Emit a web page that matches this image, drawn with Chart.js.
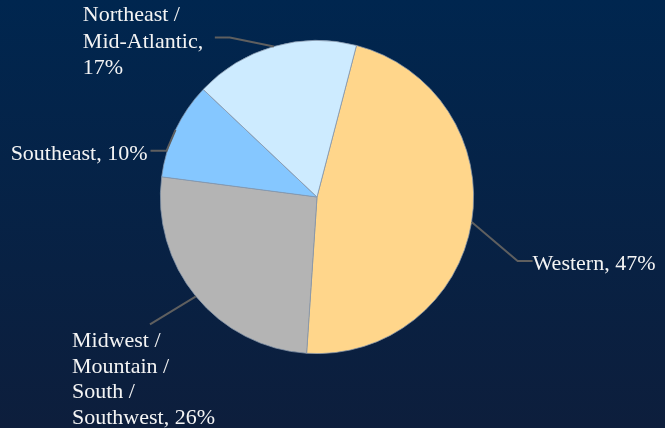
<!DOCTYPE html>
<html>
<head>
<meta charset="utf-8">
<script src="https://cdn.jsdelivr.net/npm/chart.js@4.4.0/dist/chart.umd.min.js"></script>
<style>
  html, body { margin: 0; padding: 0; }
  body { width: 665px; height: 428px; background: linear-gradient(#00264f, #0d1e3c); }
  #wrap { width: 665px; height: 428px; position: relative; }
</style>
</head>
<body>
<div id="wrap"><canvas id="regionPie"></canvas></div>
<script>
// regions, clockwise from the top
var regions = ["Western", "Midwest / Mountain / South / Southwest", "Southeast", "Northeast / Mid-Atlantic"];
var shares = [47, 26, 10, 17];
var sliceColors = ["#ffd68b", "#b4b4b4", "#85c7ff", "#cdebff"];

// label text broken into lines like the original
var labelLines = [
    ["Western, 47%"],
    ["Midwest /", "Mountain /", "South /", "Southwest, 26%"],
    ["Southeast, 10%"],
    ["Northeast /", "Mid-Atlantic,", "17%"]
];

// leader line elbow offset from slice edge, horizontal tail, text offset from elbow
var labelLayout = [
    {elbow: [46, 39], tail: 15, align: "left", tx: 15, ty: 9, lh: 26},
    {elbow: [-46, 28], tail: 0, align: "left", tx: -78, ty: 23, lh: 25.5},
    {elbow: [-9, 21], tail: -16, align: "right", tx: -19, ty: 9, lh: 26},
    {elbow: [-44, -9], tail: -15, align: "left", tx: -147, ty: -16, lh: 26.5}
];

var labelFont = "22px 'Liberation Serif', 'DejaVu Serif', serif";

var leaderLabels = {
    id: "leaderLabels",
    afterDatasetsDraw: function(chart) {
        var c = chart.ctx;
        var arcs = chart.getDatasetMeta(0).data;
        c.save();
        c.font = labelFont;
        c.textBaseline = "alphabetic";
        arcs.forEach(function(arc, i) {
            var p = arc.getProps(["x", "y", "startAngle", "endAngle", "outerRadius"], true);
            var mid = (p.startAngle + p.endAngle) / 2;
            var sx = p.x + Math.cos(mid) * p.outerRadius;
            var sy = p.y + Math.sin(mid) * p.outerRadius;
            var L = labelLayout[i];
            var ex = sx + L.elbow[0], ey = sy + L.elbow[1];
            c.strokeStyle = "#5f5f5f";
            c.lineWidth = 2;
            c.beginPath();
            c.moveTo(sx, sy);
            c.lineTo(ex, ey);
            c.lineTo(ex + L.tail, ey);
            c.stroke();
            c.fillStyle = "#f4f4f4";
            c.textAlign = L.align;
            labelLines[i].forEach(function(t, k) {
                c.fillText(t, ex + L.tx, ey + L.ty + k * L.lh);
            });
        });
        c.restore();
    }
};

function drawChart() {
    var ctx = document.getElementById("regionPie").getContext("2d");
    var pieData = {
        type: "pie",
        data: {
            labels: regions,
            datasets: [{
                data: shares,
                backgroundColor: sliceColors,
                borderColor: "#8797ab",
                borderWidth: 0.75
            }]
        },
        options: {
            responsive: true,
            maintainAspectRatio: false,
            animation: false,
            rotation: 14.6,
            layout: { padding: { left: 160, right: 191, top: 40, bottom: 74 } },
            plugins: {
                legend: { display: false },
                tooltip: { enabled: false }
            }
        },
        plugins: [leaderLabels]
    };
    new Chart(ctx, pieData);
}

document.fonts.load(labelFont).then(drawChart, drawChart);
</script>
</body>
</html>
